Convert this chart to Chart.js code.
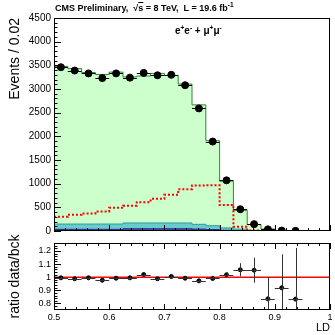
<!DOCTYPE html>
<html>
<head>
<meta charset="utf-8">
<script src="https://cdn.jsdelivr.net/npm/chart.js@4.4.1/dist/chart.umd.min.js"></script>
<style>
  html, body { margin: 0; padding: 0; background: #fff; overflow: hidden; }
  #wrap { position: relative; width: 335px; height: 335px; font-family: "Liberation Sans", Arial, sans-serif; }
  #top { position: absolute; left: 0; top: 0; width: 335px; height: 240px; }
  #bot { position: absolute; left: 0; top: 230px; width: 335px; height: 105px; }
  #title { position: absolute; left: 55px; top: 3px; font-size: 9px; font-weight: bold; white-space: nowrap; color: #000; }
  #chan { position: absolute; left: 175px; top: 25px; font-size: 10px; font-weight: bold; white-space: nowrap; color: #000; }
  sup { font-size: 6.5px; vertical-align: 4px; line-height: 0; }
  .ol { text-decoration: overline; }
</style>
</head>
<body>
<div id="wrap">
  <div id="top"><canvas id="mainChart"></canvas></div>
  <div id="bot"><canvas id="ratioChart"></canvas></div>
  <div id="title">CMS Preliminary,&nbsp; √<span class="ol">s</span> = 8 TeV,&nbsp; L = 19.6 fb<sup>-1</sup></div>
  <div id="chan">e<sup>+</sup>e<sup>-</sup> + μ<sup>+</sup>μ<sup>-</sup></div>
</div>
<script>
// bins of LD, 0.5 .. 1.0
const binEdges = [0.5, 0.525, 0.55, 0.575, 0.6, 0.625, 0.65, 0.675, 0.7, 0.725, 0.75,
  0.775, 0.8, 0.825, 0.85, 0.875, 0.9, 0.925, 0.95, 0.975, 1.0];

// data (black points)
const dataCounts = [3460, 3390, 3330, 3230, 3330, 3240, 3340, 3290, 3300, 3080, 2590, 1890, 1070, 460, 145, 35, 9, 3, null, null];
const dataErr = [59, 58, 58, 57, 58, 57, 58, 57, 57, 55, 51, 43, 33, 21, 12, 6, 3, 2, 0, 0];

// background stack (cumulative tops)
const bkgTotal = [3477, 3431, 3347, 3306, 3357, 3256, 3275, 3330, 3284, 3105, 2665, 1909, 1051, 436, 135, 42, 10, 4, 2, 1];
const bkgTeal = [147, 147, 147, 147, 147, 170, 170, 170, 170, 170, 141, 112, 65, 40, 12, 5, 2, 1, 0, 0];
const bkgBlue = [35, 35, 35, 35, 35, 48, 48, 48, 48, 48, 40, 30, 15, 8, 3, 1, 1, 0, 0, 0];

// signal (red dotted)
const signal = [300, 343, 372, 414, 491, 533, 610, 680, 765, 884, 962, 966, 550, 90, 10, 3, 2, 1, 1, 1];

// ratio data / background
const ratio = [0.995, 0.988, 0.995, 0.977, 0.992, 0.995, 1.02, 0.988, 1.005, 0.992, 0.972, 0.99, 1.018, 1.056, 1.053, 0.835, 0.919, 0.833, null, null];
const ratioErr = [0.006, 0.006, 0.006, 0.006, 0.006, 0.006, 0.006, 0.006, 0.006, 0.006, 0.007, 0.009, 0.018, 0.05, 0.095, 0.165, 0.255, 0.39, 0, 0];
const unity = [1, 1];

const FONT = '"Liberation Sans", Arial, sans-serif';
const halfW = (binEdges[1] - binEdges[0]) / 2;
const centers = binEdges.slice(0, -1).map((e, i) => (e + binEdges[i + 1]) / 2);
const fmt = v => String(Number(v.toFixed(2)));

function steps(vals) {
  return binEdges.map((x, i) => ({ x, y: vals[Math.min(i, vals.length - 1)] }));
}
function points(vals) {
  return centers.map((x, i) => ({ x, y: vals[i] }));
}

// ROOT-like frame with inward tick marks
const rootFrame = {
  id: 'rootFrame',
  afterDraw(chart, args, o) {
    const { ctx, chartArea: a, scales } = chart;
    ctx.save();
    ctx.strokeStyle = '#000';
    ctx.lineWidth = 1;
    ctx.strokeRect(Math.round(a.left) + 0.5, Math.round(a.top) + 0.5,
      Math.round(a.right - a.left) - 1, Math.round(a.bottom - a.top) - 1);
    const marks = (scale, major, minor, draw) => {
      const k0 = Math.ceil(scale.min / minor - 1e-6), k1 = Math.floor(scale.max / minor + 1e-6);
      for (let k = k0; k <= k1; k++) {
        const v = k * minor;
        const big = Math.abs(v / major - Math.round(v / major)) < 1e-6;
        draw(Math.round(scale.getPixelForValue(v)) + 0.5, big);
      }
    };
    ctx.beginPath();
    marks(scales.y, o.yMajor, o.yMinor, (p, big) => {
      ctx.moveTo(a.left, p); ctx.lineTo(a.left + (big ? o.yLen : o.yLen / 2), p);
    });
    marks(scales.x, 0.1, 0.02, (p, big) => {
      const L = big ? o.xLen : o.xLen / 2;
      ctx.moveTo(p, a.bottom); ctx.lineTo(p, a.bottom - L);
      if (o.xTop) { ctx.moveTo(p, a.top); ctx.lineTo(p, a.top + L); }
    });
    ctx.stroke();
    ctx.restore();
  }
};

// error bars for datasets carrying errY
const errorBars = {
  id: 'errorBars',
  afterDatasetsDraw(chart) {
    const { ctx, chartArea: a, scales: { x, y } } = chart;
    ctx.save();
    ctx.beginPath();
    ctx.rect(a.left, a.top, a.right - a.left, a.bottom - a.top);
    ctx.clip();
    chart.data.datasets.forEach(ds => {
      if (!ds.errY) return;
      ctx.lineWidth = 1;
      ctx.strokeStyle = ds.errColor;
      ctx.beginPath();
      ds.data.forEach((pt, i) => {
        if (pt.y == null) return;
        const px = Math.round(x.getPixelForValue(pt.x)) + 0.5, py = Math.round(y.getPixelForValue(pt.y)) + 0.5;
        ctx.moveTo(x.getPixelForValue(pt.x - halfW), py);
        ctx.lineTo(x.getPixelForValue(pt.x + halfW), py);
        ctx.moveTo(px, y.getPixelForValue(pt.y - ds.errY[i]));
        ctx.lineTo(px, y.getPixelForValue(pt.y + ds.errY[i]));
      });
      ctx.stroke();
    });
    ctx.restore();
  }
};

// histogram outline: value of bin i held from edge i to edge i+1
const stepLine = (label, vals, border, fill, order) => ({
  label, data: steps(vals), stepped: 'before', borderColor: border, backgroundColor: fill,
  fill: fill ? 'origin' : false, borderWidth: 1, pointRadius: 0, order
});

const noGrid = { display: false, drawTicks: false };

new Chart(document.getElementById('mainChart'), {
  type: 'line',
  data: {
    datasets: [
      { label: 'data', data: points(dataCounts), showLine: false, pointRadius: 3.5,
        pointBackgroundColor: '#000', pointBorderColor: '#000', errY: dataErr, errColor: '#000', order: 0 },
      Object.assign(stepLine('signal', signal, '#ff0000', null, 1), { borderWidth: 2, borderDash: [2, 2] }),
      stepLine('blue', bkgBlue, '#2a2a80', '#4d4daa', 2),
      stepLine('teal', bkgTeal, '#2f9a9a', '#66cccc', 3),
      stepLine('green', bkgTotal, '#2e8a2e', '#ccffcc', 4)
    ]
  },
  options: {
    responsive: true, maintainAspectRatio: false, animation: false,
    layout: { padding: { left: 0, right: 2, top: 18, bottom: 8 } },
    plugins: {
      legend: { display: false }, tooltip: { enabled: false },
      rootFrame: { yMajor: 500, yMinor: 100, yLen: 7, xLen: 6, xTop: false }
    },
    scales: {
      x: { type: 'linear', min: 0.5, max: 1.0, display: false },
      y: {
        min: 0, max: 4500,
        afterFit: s => { s.width = 54; },
        grid: noGrid, border: { display: false },
        ticks: { stepSize: 500, padding: 3, autoSkip: false, color: '#000',
          font: { family: FONT, size: 10 }, callback: fmt },
        title: { display: true, text: 'Events / 0.02', align: 'end', color: '#000',
          font: { family: FONT, size: 14 }, padding: { top: 7, bottom: 0 } }
      }
    }
  },
  plugins: [rootFrame, errorBars]
});

new Chart(document.getElementById('ratioChart'), {
  type: 'line',
  data: {
    datasets: [
      { label: 'ratio', data: points(ratio), showLine: false, pointRadius: 2,
        pointBackgroundColor: '#000', pointBorderColor: '#000', errY: ratioErr, errColor: '#333', order: 0 },
      { label: 'unity', data: [{ x: binEdges[0], y: unity[0] }, { x: binEdges[binEdges.length - 1], y: unity[1] }],
        borderColor: '#ff0000', borderWidth: 1.5, pointRadius: 0, order: 1 }
    ]
  },
  options: {
    responsive: true, maintainAspectRatio: false, animation: false,
    layout: { padding: { left: 0, right: 2, top: 13, bottom: 0 } },
    plugins: {
      legend: { display: false }, tooltip: { enabled: false },
      rootFrame: { yMajor: 0.1, yMinor: 0.02, yLen: 7, xLen: 6, xTop: true }
    },
    scales: {
      x: {
        type: 'linear', min: 0.5, max: 1.0,
        afterFit: s => { s.height = 25; },
        grid: noGrid, border: { display: false },
        ticks: { stepSize: 0.1, padding: 2, color: '#000', maxRotation: 0, autoSkip: false,
          font: { family: FONT, size: 9 }, callback: fmt },
        title: { display: true, text: 'LD', align: 'end', color: '#000',
          font: { family: FONT, size: 11 }, padding: { top: 0, bottom: 0 } }
      },
      y: {
        min: 0.75, max: 1.26,
        afterFit: s => { s.width = 54; },
        grid: noGrid, border: { display: false },
        ticks: { stepSize: 0.1, includeBounds: false, padding: 3, color: '#000', autoSkip: false,
          font: { family: FONT, size: 9 }, callback: fmt },
        title: { display: true, text: 'ratio data/bck', color: '#000',
          font: { family: FONT, size: 14 }, padding: { top: 7, bottom: 0 } }
      }
    }
  },
  plugins: [rootFrame, errorBars]
});
</script>
</body>
</html>
